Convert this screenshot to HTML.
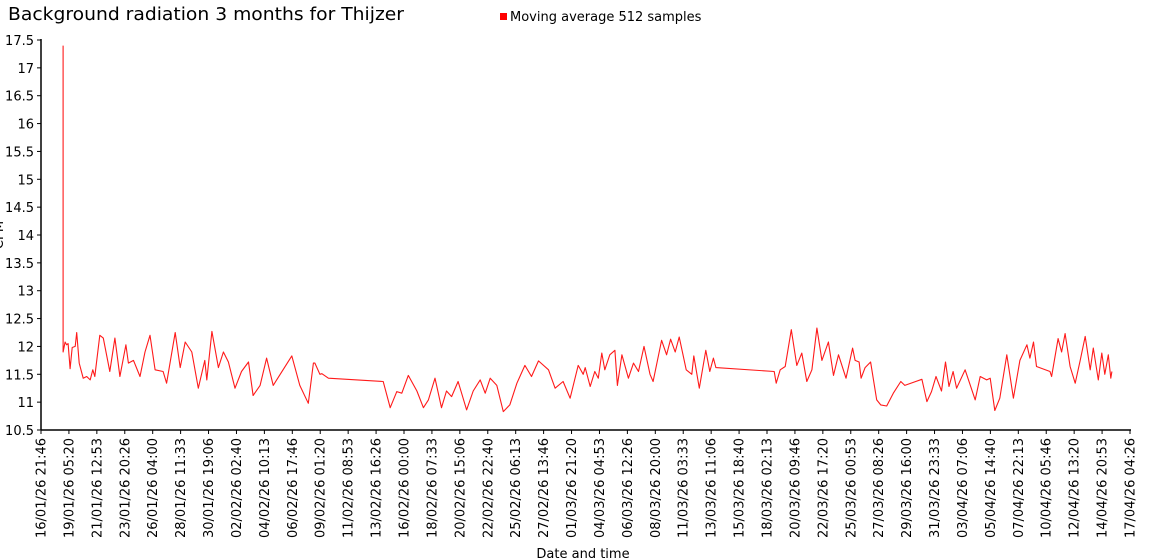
<!DOCTYPE html>
<html><head><meta charset="utf-8">
<style>
body{margin:0;background:#fff;}
svg{display:block;font-family:"DejaVu Sans","Liberation Sans",sans-serif;}
</style></head>
<body>
<svg id="chart" width="1150" height="560">
<text x="8" y="20" font-size="18" textLength="396" lengthAdjust="spacingAndGlyphs">Background radiation 3 months for Thijzer</text>
<g>
<rect x="500" y="13" width="7" height="7" fill="#ff0000"></rect>
<text x="510" y="21" font-size="13">Moving average 512 samples</text>
</g>
<text transform="translate(3,235) rotate(-90)" text-anchor="middle" font-size="13">CPM</text>
<text x="583" y="558" text-anchor="middle" font-size="13">Date and time</text>
<g id="axes"></g>
<g id="plot"></g>
</svg>
<script>
const times=[44,44,48,51,54,58,62,68,71,76,84,91,98,103,107,117,124,137,147,157,169,174,184,197,207,217,227,243,250,267,277,287,300,313,326,330,340,353,363,373,386,399,413,422,436,449,462,476,499,515,532,542,545,555,559,572,681,695,708,718,731,748,761,771,784,797,807,817,830,847,860,874,884,894,907,920,933,947,963,976,990,1010,1023,1039,1053,1069,1079,1083,1093,1102,1109,1116,1122,1132,1142,1147,1156,1169,1179,1189,1200,1212,1218,1235,1245,1253,1262,1270,1284,1295,1299,1310,1323,1331,1338,1343,1459,1463,1471,1481,1493,1504,1514,1524,1534,1544,1554,1567,1577,1587,1602,1615,1620,1628,1632,1640,1651,1663,1671,1683,1696,1711,1719,1753,1763,1772,1781,1792,1800,1807,1815,1822,1839,1859,1869,1882,1889,1898,1908,1922,1935,1948,1962,1968,1975,1981,2008,2011,2024,2031,2038,2048,2058,2068,2078,2088,2094,2104,2111,2117,2124,2129,2131];
const values=[17.4,11.9,12.08,12.03,12.05,11.6,11.98,12.0,12.25,11.70,11.43,11.46,11.40,11.58,11.46,12.2,12.15,11.55,12.15,11.46,12.03,11.7,11.75,11.46,11.9,12.2,11.58,11.55,11.34,12.25,11.62,12.08,11.9,11.25,11.75,11.4,12.27,11.62,11.9,11.72,11.25,11.55,11.72,11.12,11.3,11.79,11.3,11.5,11.83,11.3,10.98,11.7,11.7,11.5,11.51,11.43,11.37,10.9,11.19,11.16,11.48,11.2,10.9,11.04,11.43,10.9,11.2,11.1,11.37,10.86,11.2,11.4,11.16,11.43,11.3,10.83,10.95,11.34,11.66,11.46,11.74,11.58,11.25,11.37,11.07,11.66,11.5,11.62,11.28,11.55,11.43,11.88,11.58,11.85,11.93,11.3,11.85,11.43,11.7,11.55,12.0,11.5,11.37,12.11,11.85,12.13,11.9,12.17,11.58,11.5,11.83,11.25,11.93,11.55,11.79,11.62,11.55,11.34,11.58,11.64,12.3,11.66,11.88,11.37,11.58,12.33,11.75,12.08,11.48,11.85,11.43,11.97,11.75,11.72,11.43,11.62,11.72,11.04,10.95,10.93,11.16,11.37,11.3,11.41,11.01,11.19,11.46,11.2,11.72,11.28,11.55,11.25,11.58,11.04,11.46,11.4,11.43,10.85,11.07,11.85,11.07,11.75,12.03,11.79,12.08,11.64,11.55,11.46,12.14,11.9,12.23,11.64,11.34,11.75,12.18,11.58,11.97,11.4,11.88,11.5,11.85,11.43,11.55];
const xTickLabels=["16/01/26 21:46","19/01/26 05:20","21/01/26 12:53","23/01/26 20:26","26/01/26 04:00","28/01/26 11:33","30/01/26 19:06","02/02/26 02:40","04/02/26 10:13","06/02/26 17:46","09/02/26 01:20","11/02/26 08:53","13/02/26 16:26","16/02/26 00:00","18/02/26 07:33","20/02/26 15:06","22/02/26 22:40","25/02/26 06:13","27/02/26 13:46","01/03/26 21:20","04/03/26 04:53","06/03/26 12:26","08/03/26 20:00","11/03/26 03:33","13/03/26 11:06","15/03/26 18:40","18/03/26 02:13","20/03/26 09:46","22/03/26 17:20","25/03/26 00:53","27/03/26 08:26","29/03/26 16:00","31/03/26 23:33","03/04/26 07:06","05/04/26 14:40","07/04/26 22:13","10/04/26 05:46","12/04/26 13:20","14/04/26 20:53","17/04/26 04:26"];
const yTickLabels=["10.5","11","11.5","12","12.5","13","13.5","14","14.5","15","15.5","16","16.5","17","17.5"];

const NS="http://www.w3.org/2000/svg";
const X0=41,X1=1130,Y0=430,Y1=40;
const tickHours=55.567;
const tMax=tickHours*(xTickLabels.length-1);
const yMin=10.5,yMax=17.5;
function xs(t){return X0+(t/tMax)*(X1-X0);}
function ys(v){return Y0-(v-yMin)/(yMax-yMin)*(Y0-Y1);}
function mk(tag,attrs,parent){const e=document.createElementNS(NS,tag);for(const k in attrs)e.setAttribute(k,attrs[k]);parent.appendChild(e);return e;}
const axes=document.getElementById('axes'),plot=document.getElementById('plot');

const yl=mk('line',{x1:X0,y1:Y1-1,x2:X0,y2:Y0,stroke:'#000','stroke-width':1.5},axes);


const xl=mk('line',{x1:X0,y1:Y0,x2:X1+1,y2:Y0,stroke:'#000','stroke-width':1.5},axes);



yTickLabels.forEach(function(lab){
  const v=parseFloat(lab),y=ys(v);
  const tk=mk('line',{x1:X0-4,y1:y,x2:X0,y2:y,stroke:'#000','stroke-width':1},axes);
  
  
  const tx=mk('text',{x:X0-7,y:y+5,'text-anchor':'end','font-size':13},axes);
  
  
  tx.textContent=lab;
});
xTickLabels.forEach(function(lab,i){
  const x=xs(i*tickHours);
  const tk=mk('line',{x1:x,y1:Y0,x2:x,y2:Y0+4,stroke:'#000','stroke-width':1},axes);
  
  
  const tx=mk('text',{transform:'translate('+(x+4.5)+','+(Y0+8)+') rotate(-90)','text-anchor':'end','font-size':13},axes);
  
  
  tx.textContent=lab;
});
let d='';
times.forEach(function(t,i){d+=(i?'L':'M')+xs(t).toFixed(1)+','+ys(values[i]).toFixed(1);});
const p=mk('path',{d:d,fill:'none',stroke:'#ff1a1a','stroke-width':1.1,'stroke-linejoin':'round'},plot);


</script>
</body></html>
